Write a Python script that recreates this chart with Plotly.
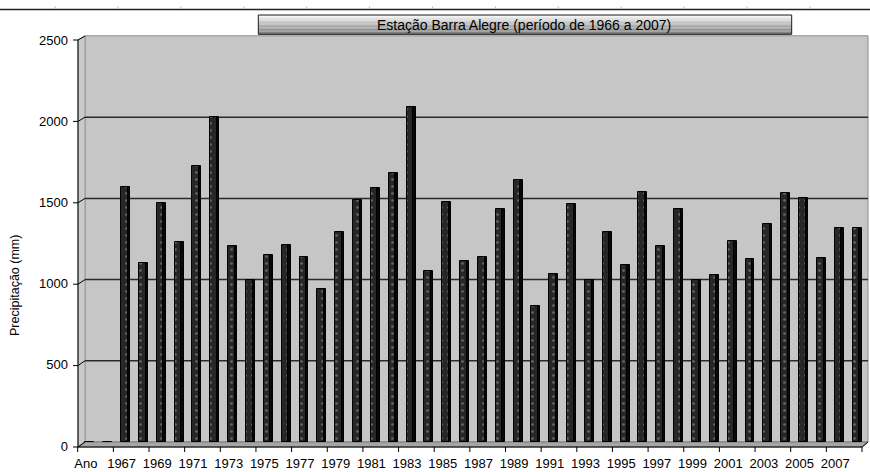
import plotly.graph_objects as go

# ---------------- data ----------------
categories = ["Ano", "1966", "1967", "1968", "1969", "1970", "1971", "1972", "1973",
              "1974", "1975", "1976", "1977", "1978", "1979", "1980", "1981", "1982",
              "1983", "1984", "1985", "1986", "1987", "1988", "1989", "1990", "1991",
              "1992", "1993", "1994", "1995", "1996", "1997", "1998", "1999", "2000",
              "2001", "2002", "2003", "2004", "2005", "2006", "2007", "2008"]
precip = [0, 0, 1570, 1100, 1470, 1230, 1700, 2000, 1210, 1000, 1150, 1215, 1140,
          945, 1295, 1490, 1565, 1655, 2060, 1050, 1475, 1115, 1140, 1435, 1615, 835,
          1035, 1465, 1000, 1295, 1090, 1540, 1205, 1435, 1000, 1030, 1240, 1125,
          1340, 1535, 1505, 1130, 1320, 1320]
tick_labels = categories[::2]
y_ticks = [0, 500, 1000, 1500, 2000, 2500]
grid_values = [500, 1000, 1500, 2000]
title_text = "Estação Barra Alegre (período de 1966 a 2007)"
y_title = "Precipitação (mm)"

# ---------------- geometry helpers ----------------
W, H = 870, 472
L, R, T, B = 81, 4, 36, 30
PW, PH = W - L - R, H - T - B
FONT = "Liberation Sans, Arial, sans-serif"


def px(x):
    return (x - L) / PW


def py(y):
    return (H - B - y) / PH


def front_y(v):
    return 447 - v * 407 / 2500


def back_y(v):
    return 442 - v * PH / 2500


fig = go.Figure()

# side / depth face of the bars
fig.add_trace(go.Bar(
    x=categories, y=precip, width=0.36, offset=-0.11,
    marker=dict(color="#080808", line=dict(color="#000000", width=1)),
    hoverinfo="skip", showlegend=False,
))
# front face of the bars (dotted texture)
fig.add_trace(go.Bar(
    x=categories, y=precip, width=0.37, offset=-0.252,
    marker=dict(color="#272727",
                pattern=dict(shape=".", fgcolor="#a8a8a8", bgcolor="#272727",
                             size=7, solidity=0.12),
                line=dict(color="#000000", width=1)),
    showlegend=False,
))

shapes = []
# back wall
shapes.append(dict(type="rect", xref="paper", yref="paper",
                   x0=px(85), x1=px(868), y0=py(442), y1=py(35.8),
                   fillcolor="#c6c6c6", line=dict(color="#8c8c8c", width=1),
                   layer="below"))
# left side wall
shapes.append(dict(type="path", xref="paper", yref="paper",
                   path=f"M {px(78)},{py(447)} L {px(78)},{py(40)} L {px(85)},{py(35.8)} "
                        f"L {px(85)},{py(442)} Z",
                   fillcolor="#cacaca", line=dict(color="#9a9a9a", width=1),
                   layer="below"))
# floor
shapes.append(dict(type="path", xref="paper", yref="paper",
                   path=f"M {px(78)},{py(447)} L {px(85)},{py(442)} L {px(868)},{py(442)} "
                        f"L {px(862)},{py(447)} Z",
                   fillcolor="#a6a6a6", line=dict(color="#7a7a7a", width=1),
                   layer="below"))
# gridlines on back wall
for v in grid_values:
    shapes.append(dict(type="line", xref="paper", yref="y",
                       x0=px(85), x1=px(868), y0=v, y1=v,
                       line=dict(color="#2a2a2a", width=1.5), layer="below"))
# front y axis line + ticks with diagonal connectors
shapes.append(dict(type="line", xref="paper", yref="paper",
                   x0=px(78), x1=px(78), y0=py(40), y1=py(447),
                   line=dict(color="#000000", width=1)))
for v in y_ticks:
    fy = front_y(v)
    shapes.append(dict(type="line", xref="paper", yref="paper",
                       x0=px(73), x1=px(78), y0=py(fy), y1=py(fy),
                       line=dict(color="#000000", width=1)))
    shapes.append(dict(type="line", xref="paper", yref="paper",
                       x0=px(78), x1=px(85), y0=py(fy), y1=py(back_y(v)),
                       line=dict(color="#000000", width=1)))
# front x axis line + end diagonal
shapes.append(dict(type="line", xref="paper", yref="paper",
                   x0=px(78), x1=px(862), y0=py(447), y1=py(447),
                   line=dict(color="#000000", width=1)))
shapes.append(dict(type="line", xref="paper", yref="paper",
                   x0=px(862), x1=px(868), y0=py(447), y1=py(442),
                   line=dict(color="#000000", width=1)))
# x ticks every two categories
step = (862 - 77.7) / (len(categories) / 2)
for k in range(len(tick_labels) + 1):
    xx = 77.7 + step * k
    shapes.append(dict(type="line", xref="paper", yref="paper",
                       x0=px(xx), x1=px(xx), y0=py(447), y1=py(452),
                       line=dict(color="#000000", width=1)))
# top ruler line and faint marks
shapes.append(dict(type="line", xref="paper", yref="paper",
                   x0=px(0), x1=px(870), y0=py(9.5), y1=py(9.5),
                   line=dict(color="#222222", width=1.3)))
for k in range(13):
    xx = 55.1 + 62.9 * k
    shapes.append(dict(type="line", xref="paper", yref="paper",
                       x0=px(xx), x1=px(xx), y0=py(6.5), y1=py(8.5),
                       line=dict(color="#b8b8b8", width=1)))
# title box with gradient
n = 14
top, bot = 15, 34.3
for i in range(n):
    y0 = top + (bot - top) * i / n
    y1 = top + (bot - top) * (i + 1) / n
    g = int(245 - (245 - 120) * i / (n - 1))
    shapes.append(dict(type="rect", xref="paper", yref="paper",
                       x0=px(258.3), x1=px(791.7), y0=py(y1), y1=py(y0),
                       fillcolor=f"rgb({g},{g},{g})", line=dict(width=0)))
shapes.append(dict(type="rect", xref="paper", yref="paper",
                   x0=px(258.3), x1=px(791.7), y0=py(34.3), y1=py(15),
                   fillcolor="rgba(0,0,0,0)", line=dict(color="#1a1a1a", width=1)))

annotations = [
    dict(text=title_text, xref="paper", yref="paper", x=px(524), y=py(25),
         xanchor="center", yanchor="middle", showarrow=False,
         font=dict(family=FONT, size=14, color="#000000")),
    dict(text=y_title, xref="paper", yref="paper", x=px(15), y=py(286),
         xanchor="center", yanchor="middle", showarrow=False, textangle=-90,
         font=dict(family=FONT, size=12.5, color="#000000")),
]

fig.update_layout(
    width=W, height=H,
    margin=dict(l=L, r=R, t=T, b=B, pad=0, autoexpand=False),
    paper_bgcolor="#ffffff", plot_bgcolor="rgba(0,0,0,0)",
    barmode="overlay", bargap=0,
    shapes=shapes, annotations=annotations,
    font=dict(family=FONT, size=13, color="#000000"),
    xaxis=dict(type="category", categoryorder="array", categoryarray=categories,
               range=[-0.5, len(categories) - 0.5], automargin=False,
               tickmode="array", tickvals=tick_labels, ticktext=tick_labels,
               ticks="", showgrid=False, showline=False, zeroline=False,
               tickfont=dict(family=FONT, size=13, color="#000000"),
               ticklabelshift=-4, ticklabelstandoff=12),
    yaxis=dict(range=[0, 2500], tickmode="array", tickvals=y_ticks, automargin=False,
               ticks="", showgrid=False, showline=False, zeroline=False,
               tickfont=dict(family=FONT, size=13, color="#000000"),
               ticklabelshift=4, ticklabelstandoff=12),
)

fig.write_html("out.html",
               config={"displayModeBar": False},
               post_script="document.body.style.margin='0px';"
                           "document.body.style.padding='0px';")
